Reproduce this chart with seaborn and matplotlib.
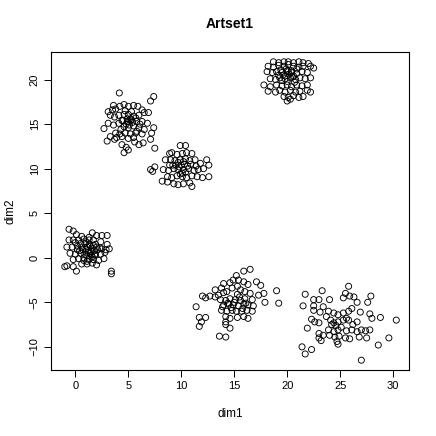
import pandas as pd
import seaborn as sns
import matplotlib.pyplot as plt

# cluster around (1, 1)
a_x = [-0.6, -0.2, 0.1, 1.6, 2.0, 2.5, 3.0, -0.6, -0.2, 0.3, 0.8, 1.3, 1.7, 2.4, 3.0,
       -0.8, -0.3, 0.2, 0.6, 1.1, 1.6, 2.0, 2.5, -0.5, 0.0, 0.5, 0.9, 1.4, 1.9, 2.4, 2.8,
       -0.2, 0.3, 0.8, 1.3, 1.7, 2.2, 2.7, 0.6, 1.1, 1.6, 2.0, -1.0, -0.8, -0.2, 0.1,
       3.4, 3.4, 1.0, 1.2, 1.5, 0.7, 1.8, 1.3, 0.9, 1.1, 1.6, 0.4, 2.1, 1.4, 0.8, 1.9,
       1.2, 0.5, 1.0, 2.3, 1.5, 0.2, 1.7, 1.1, 2.9, 0.0, 3.2, 1.3, 0.6, 1.8]
a_y = [3.2, 3.0, 2.6, 2.8, 2.5, 2.5, 2.5, 2.0, 2.0, 2.0, 2.1, 2.0, 2.0, 1.8, 1.5,
       1.2, 1.2, 1.3, 1.2, 1.2, 1.1, 1.2, 1.0, 0.5, 0.4, 0.5, 0.4, 0.5, 0.4, 0.4, 0.6,
       -0.2, -0.1, -0.3, -0.2, -0.2, -0.3, -0.1, -0.7, -0.7, -0.6, -0.8, -1.0, -0.9, -1.0, -1.5,
       -1.5, -1.8, 1.0, 0.8, 0.7, 0.9, 0.8, 1.5, 1.6, 0.2, 0.1, 0.8, 0.9, 1.3, 0.0, 1.5,
       0.6, 1.6, 1.8, 1.1, 0.3, 0.9, 1.4, -0.4, 0.9, 1.7, 1.0, 2.3, 2.4, 0.3]

# cluster around (5, 15)
b_x = [4.15, 7.4, 7.1, 3.6, 4.2, 4.6, 5.0, 5.5, 5.9, 3.1, 3.5, 3.8, 6.3, 6.5, 6.9,
       3.3, 3.7, 4.1, 4.6, 5.0, 5.5, 6.0, 4.4, 4.9, 5.3, 5.8, 6.3, 6.8, 3.1, 3.6, 4.1,
       4.6, 5.0, 5.5, 6.0, 6.5, 2.7, 3.8, 4.2, 4.7, 5.2, 5.7, 6.3, 7.4, 7.2, 3.9, 4.4,
       5.0, 5.5, 3.3, 3.7, 5.6, 6.0, 6.4, 3.0, 4.4, 4.8, 5.0, 4.6, 7.5, 7.1, 5.2, 4.8,
       5.4, 4.9, 5.1, 5.7, 4.5, 5.3, 6.1, 4.3, 5.8, 5.0, 4.7]
b_y = [18.5, 18.1, 17.6, 17.1, 17.0, 17.2, 17.0, 17.1, 17.0, 16.4, 16.6, 16.7, 16.6, 16.3, 16.3,
       16.0, 15.8, 16.0, 16.1, 16.1, 15.9, 16.0, 15.4, 15.3, 15.5, 15.3, 15.3, 15.1, 15.1, 14.9, 15.1,
       14.7, 14.6, 14.8, 14.6, 14.4, 14.5, 14.0, 13.9, 14.0, 13.9, 14.0, 13.9, 14.6, 14.0, 13.5, 13.6,
       13.4, 13.5, 13.6, 13.3, 13.0, 12.7, 12.9, 13.1, 12.7, 12.4, 12.1, 11.8, 12.3, 13.3, 15.6, 15.0,
       15.2, 15.6, 14.9, 15.7, 15.4, 16.4, 15.0, 14.4, 14.2, 15.3, 16.5]

# cluster around (10, 10)
c_x = [9.9, 10.4, 8.9, 9.1, 9.6, 10.1, 10.5, 11.0, 8.5, 9.0, 9.4, 9.9, 10.4, 10.8, 11.3,
       11.8, 12.4, 12.6, 7.5, 7.3, 7.1, 8.3, 8.8, 9.3, 9.7, 10.2, 10.7, 11.2, 11.6, 12.1,
       8.7, 9.1, 9.6, 10.1, 10.5, 11.0, 11.5, 12.0, 8.2, 8.7, 9.3, 9.7, 10.2, 10.8, 11.0,
       12.6, 10.0, 9.8, 10.3, 9.5, 10.6, 10.1, 9.2, 10.9, 9.9, 10.4, 9.7, 10.2, 11.4, 8.9]
c_y = [12.6, 12.6, 11.7, 11.8, 11.6, 11.7, 11.8, 11.7, 11.0, 11.0, 10.9, 11.0, 11.1, 10.9, 11.0,
       10.6, 11.0, 10.4, 10.2, 9.7, 9.9, 9.9, 9.8, 10.0, 9.9, 9.9, 10.0, 9.8, 9.9, 10.0,
       9.1, 9.0, 9.2, 9.1, 9.0, 9.2, 9.1, 9.0, 8.6, 8.5, 8.3, 8.2, 8.3, 8.4, 8.0,
       9.1, 10.4, 10.2, 10.5, 10.4, 10.3, 9.5, 10.4, 10.5, 9.4, 9.6, 10.7, 10.8, 10.3, 10.4]

# cluster around (20, 20.5)
d_x = [18.7, 19.2, 19.7, 20.1, 20.6, 21.1, 21.5, 22.0, 18.2, 18.7, 19.2, 19.7, 20.1, 20.6,
       21.1, 21.5, 22.2, 22.5, 18.1, 18.6, 19.0, 19.5, 20.0, 20.4, 20.9, 21.4, 21.9,
       18.4, 18.9, 19.3, 19.8, 20.3, 20.8, 21.2, 21.7, 22.2, 17.8, 18.4, 19.0, 19.5, 20.0,
       20.4, 20.9, 21.4, 21.9, 18.2, 18.9, 19.3, 19.8, 20.3, 20.8, 21.2, 21.9, 22.2,
       19.7, 20.1, 20.6, 21.1, 21.5, 20.0, 20.3, 19.6, 20.2, 19.9, 20.5, 19.4, 20.7,
       20.0, 19.8, 20.4, 19.2, 20.9, 20.1, 19.5, 20.6]
d_y = [22.0, 21.9, 22.0, 22.0, 21.9, 22.0, 21.9, 21.8, 21.5, 21.4, 21.6, 21.5, 21.7, 21.5,
       21.4, 21.5, 21.5, 21.3, 20.9, 20.8, 20.9, 20.8, 21.0, 20.8, 20.7, 20.9, 20.8,
       20.1, 20.0, 20.2, 20.1, 20.2, 20.0, 20.2, 20.1, 20.2, 19.4, 19.2, 19.4, 19.3, 19.4,
       19.2, 19.4, 19.3, 19.4, 18.7, 18.6, 18.8, 18.6, 18.8, 18.6, 18.7, 18.8, 18.6,
       18.1, 18.0, 18.2, 18.0, 18.1, 17.6, 17.8, 20.5, 20.6, 21.2, 20.3, 21.1, 19.7,
       19.8, 20.4, 21.0, 20.5, 21.2, 20.9, 19.9, 20.4]

# cluster around (15, -5)
e_x = [16.5, 15.9, 15.2, 14.9, 15.4, 15.9, 16.3, 14.6, 14.0, 17.1, 17.5, 17.8, 17.3, 19.0,
       19.2, 17.9, 11.4, 12.0, 12.3, 12.7, 13.2, 13.5, 14.0, 14.3, 13.8, 14.8, 15.3, 15.6,
       16.0, 16.5, 13.7, 14.2, 14.6, 15.1, 15.6, 16.0, 16.7, 14.0, 14.5, 14.9, 15.4, 15.9,
       16.3, 16.8, 13.8, 14.3, 14.8, 15.2, 15.7, 16.2, 16.7, 14.2, 14.6, 15.3, 15.9, 16.3,
       14.2, 14.2, 14.6, 11.7, 12.3, 11.9, 11.7, 13.6, 14.2, 13.2, 15.0, 15.5, 14.7, 16.1,
       15.3, 14.4, 15.8, 13.9]
e_y = [-1.3, -1.5, -2.0, -2.5, -2.5, -2.7, -3.0, -2.8, -2.9, -2.7, -3.1, -4.0, -4.2, -3.7,
       -5.1, -5.0, -5.5, -4.3, -4.5, -4.3, -4.4, -4.2, -3.9, -3.8, -3.4, -3.4, -3.2, -3.6,
       -3.8, -4.0, -4.7, -4.8, -4.6, -4.7, -4.8, -4.6, -4.7, -5.3, -5.2, -5.3, -5.4, -5.2,
       -5.3, -5.4, -5.9, -6.0, -5.9, -6.0, -6.0, -5.9, -6.0, -6.6, -6.8, -6.7, -6.6, -6.8,
       -7.2, -7.5, -7.9, -6.7, -6.7, -7.2, -7.7, -8.8, -8.9, -3.6, -5.0, -4.4, -5.6, -5.1,
       -4.1, -5.1, -5.7, -5.5]

# cluster around (25, -7)
f_x = [25.8, 21.7, 23.3, 22.5, 23.0, 24.0, 21.5, 25.5, 25.9, 26.3, 25.3, 27.9, 27.6, 26.6,
       22.5, 23.4, 22.5, 23.1, 23.9, 24.4, 24.8, 25.3, 25.8, 26.1, 26.9, 27.8, 28.0, 28.8,
       30.3, 22.3, 22.6, 23.0, 23.7, 24.1, 24.4, 24.8, 25.3, 25.8, 26.6, 21.9, 23.9, 24.4,
       24.8, 25.6, 26.1, 26.6, 27.0, 27.4, 27.8, 23.0, 23.4, 24.0, 24.5, 24.9, 25.5, 25.9,
       23.0, 23.2, 24.7, 24.8, 26.8, 27.5, 29.6, 28.6, 21.4, 22.3, 21.7, 27.0, 24.6, 25.1,
       25.6, 24.2, 26.2]
f_y = [-3.2, -4.1, -3.7, -4.7, -4.7, -4.7, -5.4, -4.0, -4.3, -4.4, -4.5, -4.3, -5.0, -5.0,
       -5.4, -5.5, -5.9, -6.1, -6.0, -6.2, -6.4, -6.2, -6.0, -5.7, -6.1, -6.3, -6.8, -6.7,
       -7.0, -6.9, -7.2, -7.3, -6.6, -7.0, -7.3, -7.2, -7.0, -7.0, -7.2, -7.9, -8.1, -8.3,
       -8.1, -8.2, -8.1, -8.3, -8.1, -8.2, -8.1, -8.5, -8.7, -8.7, -8.9, -8.8, -9.0, -9.1,
       -9.0, -9.3, -9.4, -9.7, -8.9, -9.0, -9.0, -9.8, -10.0, -10.3, -10.8, -11.5, -7.6, -7.8,
       -6.8, -7.5, -7.5]

frames = []
for xs, ys in [(a_x, a_y), (b_x, b_y), (c_x, c_y), (d_x, d_y), (e_x, e_y), (f_x, f_y)]:
    frames.append(pd.DataFrame({'dim1': xs, 'dim2': ys}))
df = pd.concat(frames, ignore_index=True)

sns.set_style('white')
plt.rcParams['font.family'] = ['Liberation Sans', 'DejaVu Sans']
plt.rcParams['text.color'] = 'black'
plt.rcParams['axes.labelcolor'] = 'black'
plt.rcParams['xtick.color'] = 'black'
plt.rcParams['ytick.color'] = 'black'

fig = plt.figure(figsize=(4.36, 4.36), dpi=100)
ax = fig.add_axes([51 / 436, 66 / 436, 358 / 436, 318 / 436])

sns.scatterplot(data=df, x='dim1', y='dim2', ax=ax, s=19, marker='o')
pts = ax.collections[0]
pts.set_facecolor('none')
pts.set_edgecolor('black')
pts.set_linewidth(0.65)

ax.set_xlim(-2.3, 31.5)
ax.set_ylim(-12.6, 23.1)
ax.set_xticks([0, 5, 10, 15, 20, 25, 30])
ax.set_yticks([-10, -5, 0, 5, 10, 15, 20])
ax.tick_params(direction='out', length=5, width=0.7, labelsize=8, left=True, bottom=True, pad=3)
for lab in ax.get_yticklabels():
    lab.set_rotation(90)
    lab.set_va('center')
for sp in ax.spines.values():
    sp.set_visible(True)
    sp.set_color('black')
    sp.set_linewidth(0.8)

ax.set_xlabel('dim1', fontsize=8.5, labelpad=12)
ax.set_ylabel('dim2', fontsize=8.5, labelpad=10)
ax.set_title('Artset1', fontsize=10, fontweight='bold', color='black', pad=17)

fig.savefig('out.png', dpi=100)
